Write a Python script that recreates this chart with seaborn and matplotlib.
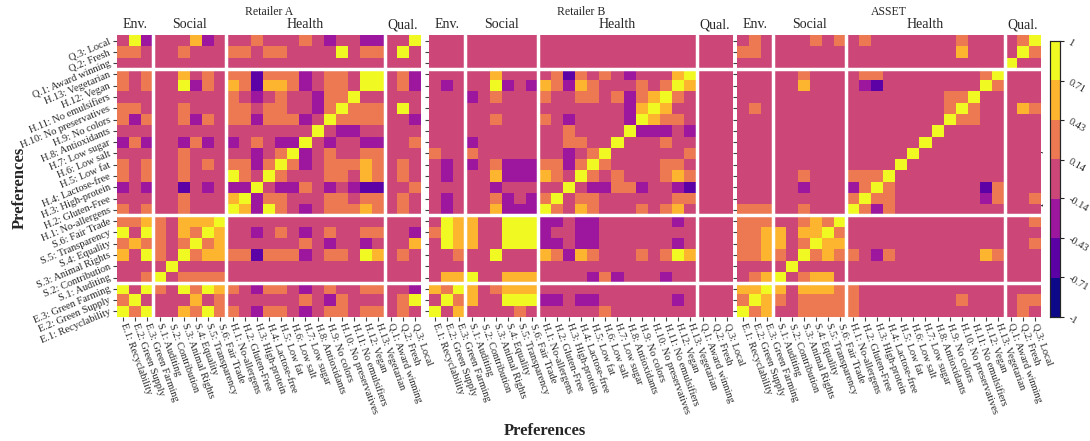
import numpy as np
import pandas as pd
import seaborn as sns
import matplotlib as mpl
import matplotlib.pyplot as plt

# preference items, in the column order of the matrices
prefs = [
    "E.1: Recyclability", "E.2: Green Supply", "E.3: Green Farming",
    "S.1: Auditing", "S.2: Contribution", "S.3: Animal Rights", "S.4: Equality",
    "S.5: Transparency", "S.6: Fair Trade",
    "H.1: No-allergens", "H.2: Gluten-Free", "H.3: High-protein", "H.4: Lactose-free",
    "H.5: Low fat", "H.6: Low salt", "H.7: Low sugar", "H.8: Antioxidants",
    "H.9: No colors", "H.10: No preservatives", "H.11: No emulsifiers",
    "H.12: Vegan", "H.13: Vegetarian",
    "Q.1: Award winning", "Q.2: Fresh", "Q.3: Local",
]
groups = ["Env.", "Social", "Health", "Qual."]
group_sizes = [3, 6, 13, 3]
panel_titles = ["Retailer A", "Retailer B", "ASSET"]

# rho, one letter per colour band
rho_level = {"N": -0.86, "V": -0.57, "U": -0.29, "P": 0.0, "O": 0.29, "A": 0.57, "Y": 0.9}

# rows from Q.3 (top) down to E.1 (bottom); blocks: Env | Social | Health | Qual
retailer_a = [
    "PYU PPPAUP PPOPPPOPUPPUU PPY",
    "OOP PPOPPP OOPOOPPPPYPOO PYP",
    "PPP PPPPPP PPPPPPPPPPPPP PPP",
    "OPO PPAPOP OOVOOOUPOOPYY POU",
    "OPO PPYUOP AOVAAOUPOOPYY POU",
    "PPP PPPPPP OPUPOPPUOOYPP PPP",
    "OOP PPOPPP OOPOOPPUOYOOO PYP",
    "OUO PPOUOP OOUOOOUPYOOOO PPU",
    "PPP PPPPPP PPPPPPPYPUUPP PPP",
    "UOU PPUOUP UPOPUUYPUPPUU PPO",
    "PPP PPOPPP PPUPOYUPOPPOO PPP",
    "OPO PPOPOP OOUOYOUPOOOAO POP",
    "OPO PPOPPP YOPYOPPPOOPAO POP",
    "UPU PPVPUP UUYPUUOPUPUVV PPO",
    "PPP PPOPPP AYUOOPPPOOPOO POP",
    "OPO PPOPPP YAUYOPUPOOOAO POP",
    "OOA OPAAAY PPPPPPPPPPPPP PPP",
    "YPY OPAOYA PPUPOPUPOPPOO PPU",
    "OAO OPOYOA PPPPPPOPUPPUP PPA",
    "APY OPYOAA OOVOOOUPOOPYA POP",
    "PPP PYPPPP PPPPPPPPPPPPP PPP",
    "PPO YPOOOO PPPPPPPPPPPPP PPP",
    "YPY OPYOYA OPUOOPUPOPPOO PPU",
    "OYP PPPAPO PPPPPPOPUOPPP POY",
    "YOY PPAOYO OPUOOPUPOOPOO POP",
]

retailer_b = [
    "PPP PPPPPP PPPPPPPPPPPPP PPP",
    "PPP PPPPPP PPPPPPPPPPPPP PPP",
    "PPP PPPPPP PPPPPPPPPPPPP PPP",
    "PPP PPAPPP POVOPOPUPPPAY PPP",
    "PUP PPYUPU AOUAOPPPOPOYA PPP",
    "PPP UPOPPP OPPOOPOUOAYOP PPP",
    "PPP PPPPPP PPPPPPPUAYAPP PPP",
    "PPP PPOPPP OPUPPPPUYAOOP PPP",
    "PPP PPPPPP PPOPPPPYUUUPU PPP",
    "PPP UPPPPP PPOOPPYPPPOPP PPP",
    "OPP OPPPPP PPUPOYPPPPPPO PPP",
    "PUP UPOUUU OOUOYOPPPPOOP PPP",
    "PUP PPAUUU AOPYOPOPPPOAO PPP",
    "PPP PPUPPP PPYPUUOOUPPUV PPP",
    "PUP PPOUPU OYPOOPPPPPPOO PPP",
    "PUP PPAUUU YOPAOPPPOPOAP PPP",
    "PYA APPYYY UUPUUPPPPPPUP PPP",
    "OYA APPYYY UPPUUPPPPPPPP PPP",
    "PYA APPYYY UUPUUPPPPPPUP PPP",
    "PPO PPYPPP AOUAOPPPOPOYA PPP",
    "PPP PPPPPP PPPPPPPPPPPPP PPP",
    "PAA YPPAAA PPPPUOUPPPUPP PPP",
    "AOY APOAAA PPPPPPPPPPPPP PPP",
    "PYO APPYYY UUPUUPPPPPPUP PPP",
    "YPA PPPPOP PPPPPOPPPPPPP PPP",
]

asset = [
    "POP PPPOPO POPPPPPPPOPPP POY",
    "OOP PPPPPP PPPPPPPPPAPPP PYO",
    "PPP PPPPPP PPPPPPPPPPPPP YPP",
    "PPP PPOPPP POOPPPPPPPPOY PPP",
    "PPP PPAPPP PUVPPPPPPPPYO PPP",
    "PPP PPPPPP PPPPPPPPOOYPP PPP",
    "POP PPPPPP PPPPPPPPOYOPP PAO",
    "PPP PPPPPP PPPPPPPPYOOPP PPP",
    "PPP PPPPPP PPPPPPPYPPPPP PPP",
    "PPP PPPPPP PPPPPPYPPPPPP PPP",
    "PPP PPPPPP PPPPPYPPPPPPP PPP",
    "PPP PPPPPP PPPPYPPPPPPPP PPP",
    "PPP PPOPPP OOOYPPPPPPPPP PPP",
    "PPP PPUPPP UOYOPPPPPPPVO PPP",
    "PPP PPPPPP OYOOPPPPPPPUO PPO",
    "OOO PPOPPP YOUOPPPPPPPPP PPP",
    "OOO PPOAOY PPPPPPPPPPPPP PPO",
    "OOA APAAYO PPPPPPPPPPPPP PPP",
    "OOA APOYAA PPPPPPPPPPPPP PPO",
    "OOA OPYOAO OPUOPPPPPPPAO PPP",
    "PPP PYPPPP PPPPPPPPPPPPP PPP",
    "POA YPOAAP PPPPPPPPPPPPP PPP",
    "AAY APAAAO OPPPPPPPPPPPP PPP",
    "OYA OPOOOO OPPPPPPPPOPPP POO",
    "YOA PPOOOO OPPPPPPPPPPPP POP",
]

cbar_ticks = [-1, -0.71, -0.43, -0.14, 0.14, 0.43, 0.71, 1]
cbar_labels = ["-1", "-0.71", "-0.43", "-0.14", "0.14", "0.43", "0.71", "1"]


def to_frame(rows):
    vals = [[rho_level[c] for c in r.replace(" ", "")] for r in rows]
    return pd.DataFrame(vals, index=prefs[::-1], columns=prefs)


sns.set_theme(style="ticks")
plt.rcParams["font.family"] = ["Liberation Serif", "DejaVu Serif"]
plt.rcParams["mathtext.fontset"] = "stix"

W, H = 1090, 441
fig = plt.figure(figsize=(W / 100, H / 100), dpi=100)

top, bottom = 35, 317
lefts = [117, 429, 737]
width = 304
cax = fig.add_axes([1050 / W, 1 - 317 / H, 10 / W, 276 / H])
cmap = mpl.colormaps["plasma"].resampled(7)

frames = [to_frame(retailer_a), to_frame(retailer_b), to_frame(asset)]
col_edges = np.cumsum(group_sizes)
row_edges = np.cumsum(group_sizes[::-1])

for i, (df, title) in enumerate(zip(frames, panel_titles)):
    ax = fig.add_axes([lefts[i] / W, 1 - bottom / H, width / W, (bottom - top) / H])
    sns.heatmap(
        df, ax=ax, cmap=cmap, vmin=-1, vmax=1,
        cbar=(i == 2), cbar_ax=cax if i == 2 else None,
        cbar_kws={"ticks": cbar_ticks},
        xticklabels=True, yticklabels=True,
    )
    # white gaps between the preference groups
    for pos in col_edges[:-1]:
        ax.axvline(pos, color="white", lw=2.5)
    for pos in row_edges[:-1]:
        ax.axhline(pos, color="white", lw=2.5)

    ax.tick_params(axis="both", length=3, width=0.8, color="0.25", pad=2)
    ax.set_xticklabels(prefs, rotation=-70, ha="left", va="center",
                       rotation_mode="anchor", fontsize=7.5)
    if i == 0:
        ax.set_yticklabels(prefs[::-1], rotation=23, ha="right", va="center",
                           rotation_mode="anchor", fontsize=7.5)
    else:
        ax.set_yticklabels([])
    ax.set_xlabel("")
    ax.set_ylabel("")

    start = 0
    for name, n in zip(groups, group_sizes):
        ax.text(start + n / 2, -0.35, name, ha="center", va="bottom", fontsize=10)
        start += n
    ax.text(0.5, 1 + 23 / (bottom - top), title, transform=ax.transAxes,
            ha="center", va="center", fontsize=8.5)

cax.set_yticks(cbar_ticks)
cax.set_yticklabels(cbar_labels, rotation=-30, ha="left", rotation_mode="anchor", fontsize=7.5)
cax.tick_params(length=3, width=0.8)
cax.yaxis.set_label_position("left")
cax.set_ylabel("Spearman's $\\rho$", fontsize=9, labelpad=3)
for s in cax.spines.values():
    s.set_visible(True)
    s.set_linewidth(0.8)

fig.text(545 / W, 1 - 431 / H, "Preferences", ha="center", va="center",
         fontsize=12, fontweight="bold")
fig.text(20 / W, 1 - 188 / H, "Preferences", ha="center", va="center",
         rotation=90, fontsize=12, fontweight="bold")

fig.savefig("out.png", dpi=100)
